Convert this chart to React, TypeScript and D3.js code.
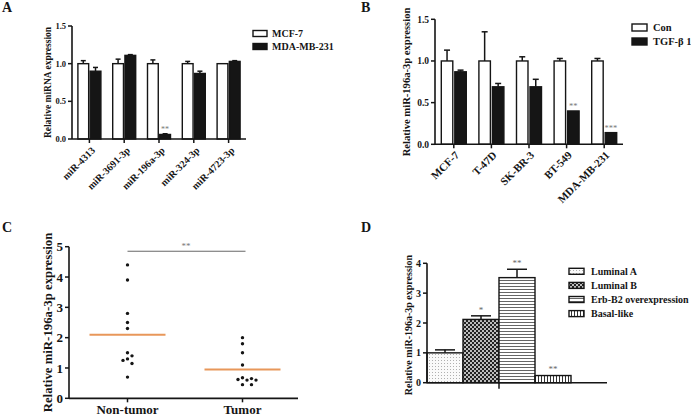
import React from "react";
import * as d3 from "d3";

const FONT = "'Liberation Serif', 'Times New Roman', serif";
const INK = "#151515";

// ---------- Panel A data ----------
const aCategories = ["miR-4313", "miR-3691-3p", "miR-196a-3p", "miR-324-3p", "miR-4723-3p"];
const aSeries = ["MCF-7", "MDA-MB-231"];
const aMCF7 = [1.0, 1.0, 1.0, 1.0, 1.0];
const aMCF7Err = [0.04, 0.06, 0.05, 0.03, 0.0];
const aMDA = [0.9, 1.11, 0.06, 0.87, 1.03];
const aMDAErr = [0.05, 0.01, 0.01, 0.03, 0.01];
const aSig = ["", "", "**", "", ""];
const aTicks = [0, 0.5, 1.0, 1.5];

// ---------- Panel B data ----------
const bCategories = ["MCF-7", "T-47D", "SK-BR-3", "BT-549", "MDA-MB-231"];
const bSeries = ["Con", "TGF-β 1"];
const bCon = [1.0, 1.0, 1.0, 1.0, 1.0];
const bConErr = [0.13, 0.35, 0.05, 0.03, 0.03];
const bTGF = [0.87, 0.69, 0.69, 0.4, 0.14];
const bTGFErr = [0.02, 0.04, 0.09, 0.0, 0.0];
const bSig = ["", "", "", "**", "***"];
const bTicks = [0, 0.5, 1.0, 1.5];

// ---------- Panel C data ----------
const cGroups = ["Non-tumor", "Tumor"];
const cNonTumor = [4.4, 3.9, 2.8, 2.5, 2.3, 1.5, 1.4, 1.3, 1.25, 1.15, 0.7];
const cTumor = [2.0, 1.8, 1.5, 1.1, 0.68, 0.65, 0.62, 0.6, 0.6, 0.45, 0.45];
const cMeans = [2.1, 0.95];
const cSig = "**";
const cTicks = [0, 1, 2, 3, 4, 5];

// ---------- Panel D data ----------
const dSubtypes = ["Luminal A", "Luminal B", "Erb-B2 overexpression", "Basal-like"];
const dValues = [1.0, 2.12, 3.52, 0.24];
const dErr = [0.1, 0.12, 0.28, 0.01];
const dSig = ["", "*", "**", "**"];
const dTicks = [0, 1, 2, 3, 4];
const dPatterns = ["patLumA", "patLumB", "patErb", "patBasal"];

function YAxis({ scale, x, ticks, fmt, fontSize, tickLen = 4, gap = 2 }: any) {
  const [y0, y1] = scale.range();
  return (
    <g>
      <line x1={x} x2={x} y1={y0} y2={y1} stroke={INK} strokeWidth={1.6} />
      {ticks.map((t: number) => (
        <g key={t}>
          <line x1={x - tickLen} x2={x} y1={scale(t)} y2={scale(t)} stroke={INK} strokeWidth={1.5} />
          <text x={x - tickLen - gap} y={scale(t)} dy="0.35em" textAnchor="end" fontSize={fontSize} fontWeight="bold" fill={INK}>
            {fmt(t)}
          </text>
        </g>
      ))}
    </g>
  );
}

function YTitle({ x, y, text, fontSize }: any) {
  return (
    <text transform={`translate(${x},${y}) rotate(-90)`} textAnchor="middle" dy="0.35em" fontSize={fontSize} fontWeight="bold" fill={INK}>
      {text}
    </text>
  );
}

function ErrBar({ cx, yv, ye, capW }: any) {
  if (Math.abs(yv - ye) < 0.5) return null;
  return (
    <g stroke={INK} strokeWidth={1.5}>
      <line x1={cx} x2={cx} y1={yv} y2={ye} />
      <line x1={cx - capW / 2} x2={cx + capW / 2} y1={ye} y2={ye} />
    </g>
  );
}

function GroupedBars({ cats, series, vals, errs, sig, left, right, top, bottom, maxV, ticks, halfW, padIn, capW,
  tickFont, labelFont, labelDx, labelDy, sigFont }: any) {
  const x0 = d3.scaleBand<string>().domain(cats).range([left, right]);
  const x1 = d3.scaleBand<string>().domain(series).range([-halfW, halfW]).paddingInner(padIn);
  const y = d3.scaleLinear().domain([0, maxV]).range([bottom, top]);
  const fills = ["#ffffff", INK];
  return (
    <g>
      {cats.map((c: string, i: number) => {
        const cx = (x0(c) as number) + x0.bandwidth() / 2;
        return (
          <g key={c}>
            {series.map((s: string, j: number) => {
              const bx = cx + (x1(s) as number);
              const v = vals[j][i];
              const e = errs[j][i];
              return (
                <g key={s}>
                  <ErrBar cx={bx + x1.bandwidth() / 2} yv={y(v)} ye={y(v + e)} capW={capW} />
                  <rect x={bx} y={y(v)} width={x1.bandwidth()} height={bottom - y(v)} fill={fills[j]} stroke={INK} strokeWidth={1.4} />
                </g>
              );
            })}
            {sig[i] ? (
              <text x={cx + (x1(series[1]) as number) + x1.bandwidth() / 2} y={y(vals[1][i] + errs[1][i]) - 2}
                textAnchor="middle" fontSize={sigFont} fill="#777">{sig[i]}</text>
            ) : null}
            <line x1={cx} x2={cx} y1={bottom} y2={bottom + 4} stroke={INK} strokeWidth={1.5} />
            <text transform={`translate(${cx + labelDx},${bottom + labelDy}) rotate(-45)`} textAnchor="end"
              fontSize={labelFont} fontWeight="bold" fill={INK}>{c}</text>
          </g>
        );
      })}
      <line x1={left} x2={right} y1={bottom} y2={bottom} stroke={INK} strokeWidth={1.6} />
      <YAxis scale={y} x={left} ticks={ticks} fmt={d3.format(".1f")} fontSize={tickFont} />
    </g>
  );
}

function Legend({ items, x, y0, step, boxW, boxH, fills, fontSize, textDx }: any) {
  return (
    <g>
      {items.map((it: string, i: number) => (
        <g key={it}>
          <rect x={x} y={y0 + i * step - boxH / 2} width={boxW} height={boxH} fill={fills[i]} stroke={INK} strokeWidth={1.4} />
          <text x={x + boxW + textDx} y={y0 + i * step} dy="0.35em" fontSize={fontSize} fontWeight="bold" fill={INK}>{it}</text>
        </g>
      ))}
    </g>
  );
}

function swarm(values: number[], y: (v: number) => number, step: number, minDist: number) {
  const placed: { x: number; y: number }[] = [];
  const out: number[] = [];
  values.forEach((v) => {
    const py = y(v);
    const cands = [0];
    for (let k = 1; k < 8; k++) cands.push(k * step, -k * step);
    let chosen = 0;
    for (const c of cands) {
      if (placed.every((p) => Math.hypot(p.x - c, p.y - py) >= minDist)) { chosen = c; break; }
    }
    placed.push({ x: chosen, y: py });
    out.push(chosen);
  });
  return out;
}

function PanelC() {
  const left = 69, right = 298, top = 246.7, bottom = 398.3;
  const x = d3.scaleBand<string>().domain(cGroups).range([left + 1, right + 2]);
  const y = d3.scaleLinear().domain([0, 5]).range([bottom, top]);
  const groups = [cNonTumor, cTumor];
  const cx = (g: string) => (x(g) as number) + x.bandwidth() / 2;
  return (
    <g>
      {groups.map((vals, gi) => {
        const offs = swarm(vals, y, 4.5, 4.6);
        const c = cx(cGroups[gi]);
        return (
          <g key={gi}>
            <line x1={c - 38} x2={c + 38} y1={y(cMeans[gi])} y2={y(cMeans[gi])} stroke="#E8975A" strokeWidth={2} />
            {vals.map((v, i) => <circle key={i} cx={c + offs[i]} cy={y(v)} r={1.7} fill={INK} />)}
            <line x1={c} x2={c} y1={bottom} y2={bottom + 4} stroke={INK} strokeWidth={1.5} />
            <text x={c} y={bottom + 16} textAnchor="middle" fontSize={13} fontWeight="bold" fill={INK}>{cGroups[gi]}</text>
          </g>
        );
      })}
      <line x1={cx(cGroups[0])} x2={cx(cGroups[1]) + 3} y1={y(4.85)} y2={y(4.85)} stroke="#666" strokeWidth={1} />
      <text x={(cx(cGroups[0]) + cx(cGroups[1])) / 2 + 1} y={y(4.85) - 2} textAnchor="middle" fontSize={9} fill="#777">{cSig}</text>
      <line x1={left} x2={right} y1={bottom} y2={bottom} stroke={INK} strokeWidth={1.8} />
      <YAxis scale={y} x={left} ticks={cTicks} fmt={d3.format("d")} fontSize={13} tickLen={4} gap={2} />
      <YTitle x={47.5} y={(top + bottom) / 2} text="Relative miR-196a-3p expression" fontSize={12.8} />
    </g>
  );
}

function PanelD() {
  const left = 427, right = 607, top = 263.3, bottom = 382.7;
  const barsRight = left + ((right - left) * 4) / 5;
  const x = d3.scaleBand<string>().domain(dSubtypes).range([left, barsRight]);
  const y = d3.scaleLinear().domain([0, 4]).range([bottom, top]);
  return (
    <g>
      {dSubtypes.map((s, i) => {
        const bx = x(s) as number;
        const c = bx + x.bandwidth() / 2;
        return (
          <g key={s}>
            <ErrBar cx={c} yv={y(dValues[i])} ye={y(dValues[i] + dErr[i])} capW={20} />
            <rect x={bx} y={y(dValues[i])} width={x.bandwidth()} height={bottom - y(dValues[i])}
              fill={`url(#${dPatterns[i]})`} stroke={INK} strokeWidth={1.4} />
            {dSig[i] ? (
              <text x={c} y={y(dValues[i] + dErr[i]) - 3} textAnchor="middle" fontSize={9} fill="#666">{dSig[i]}</text>
            ) : null}
          </g>
        );
      })}
      <line x1={(left + barsRight) / 2} x2={(left + barsRight) / 2} y1={bottom} y2={bottom + 6} stroke={INK} strokeWidth={1.5} />
      <line x1={left} x2={right} y1={bottom} y2={bottom} stroke={INK} strokeWidth={1.6} />
      <YAxis scale={y} x={left} ticks={dTicks} fmt={d3.format("d")} fontSize={10} tickLen={4} gap={2} />
      <YTitle x={408} y={(top + bottom) / 2 + 2} text="Relative miR-196a-3p expression" fontSize={10} />
      <Legend items={dSubtypes} x={569} y0={271.3} step={14.1} boxW={15} boxH={6} fills={dPatterns.map((p) => `url(#${p})`)} fontSize={10} textDx={7} />
    </g>
  );
}

export default function App() {
  return (
    <svg width={691} height={416} viewBox="0 0 691 416" style={{ position: "absolute", left: 0, top: 0, background: "#fff" }}
      fontFamily={FONT}>
      <defs>
        <pattern id="patLumA" patternUnits="userSpaceOnUse" width={3} height={3}>
          <rect width={3} height={3} fill="#fafafa" />
          <rect x={0} y={0} width={1} height={1} fill="#b0b0b0" />
        </pattern>
        <pattern id="patLumB" patternUnits="userSpaceOnUse" width={4} height={4}>
          <rect width={4} height={4} fill="#222" />
          <circle cx={1} cy={1} r={0.95} fill="#fff" />
          <circle cx={3} cy={3} r={0.95} fill="#fff" />
        </pattern>
        <pattern id="patErb" patternUnits="userSpaceOnUse" width={4} height={3}>
          <rect width={4} height={3} fill="#fff" />
          <line x1={0} x2={4} y1={1.5} y2={1.5} stroke="#555" strokeWidth={0.9} />
        </pattern>
        <pattern id="patBasal" patternUnits="userSpaceOnUse" width={3} height={4}>
          <rect width={3} height={4} fill="#fff" />
          <line x1={1.5} x2={1.5} y1={0} y2={4} stroke="#333" strokeWidth={1} />
        </pattern>
      </defs>

      {/* Panel letters */}
      <text x={2} y={12} fontSize={14} fontWeight="bold" fill={INK}>A</text>
      <text x={361} y={12} fontSize={14} fontWeight="bold" fill={INK}>B</text>
      <text x={2} y={232} fontSize={14} fontWeight="bold" fill={INK}>C</text>
      <text x={361} y={232} fontSize={14} fontWeight="bold" fill={INK}>D</text>

      {/* Panel A */}
      <GroupedBars cats={aCategories} series={aSeries} vals={[aMCF7, aMDA]} errs={[aMCF7Err, aMDAErr]} sig={aSig}
        left={72} right={246} top={26} bottom={139} maxV={1.5} ticks={aTicks} halfW={11.5} padIn={0.12} capW={5}
        tickFont={8.5} labelFont={10} labelDx={6.5} labelDy={12} sigFont={8} />
      <YTitle x={48} y={82.5} text="Relative miRNA expression" fontSize={9.5} />
      <Legend items={aSeries} x={253} y0={33.5} step={13} boxW={14} boxH={6} fills={["#fff", INK]} fontSize={10} textDx={5} />

      {/* Panel B */}
      <GroupedBars cats={bCategories} series={bSeries} vals={[bCon, bTGF]} errs={[bConErr, bTGFErr]} sig={bSig}
        left={435} right={623} top={19.3} bottom={144.3} maxV={1.5} ticks={bTicks} halfW={12.5} padIn={0.15} capW={6}
        tickFont={9.5} labelFont={11} labelDx={6} labelDy={11.5} sigFont={8.5} />
      <YTitle x={406} y={82} text="Relative miR-196a-3p expression" fontSize={10.6} />
      <Legend items={bSeries} x={632} y0={27.5} step={14} boxW={15} boxH={7} fills={["#fff", INK]} fontSize={10.5} textDx={6} />

      <PanelC />
      <PanelD />
    </svg>
  );
}
